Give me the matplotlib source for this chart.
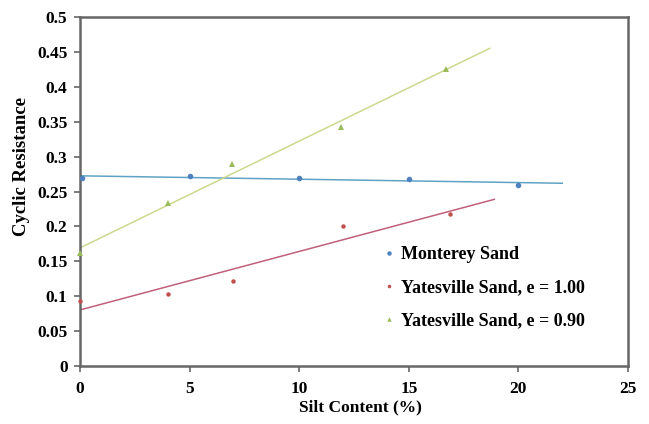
import numpy as np
import matplotlib
matplotlib.use("Agg")
import matplotlib.pyplot as plt

# Data
monterey_x = [0.1, 5, 10, 15, 20]
monterey_y = [0.269, 0.272, 0.270, 0.268, 0.259]

yates100_x = [0, 4, 7, 12, 16.9]
yates100_y = [0.093, 0.103, 0.122, 0.200, 0.218]

yates090_x = [0, 4, 6.95, 11.9, 16.7]
yates090_y = [0.162, 0.233, 0.289, 0.342, 0.425]

series_labels = ["Monterey Sand", "Yatesville Sand, e = 1.00", "Yatesville Sand, e = 0.90"]
x_ticks = [0, 5, 10, 15, 20, 25]
y_ticks = [0, 0.05, 0.1, 0.15, 0.2, 0.25, 0.3, 0.35, 0.4, 0.45, 0.5]
y_tick_labels = ["0", "0.05", "0.1", "0.15", "0.2", "0.25", "0.3", "0.35", "0.4", "0.45", "0.5"]
forecast_forward = 2.0

plt.rcParams['font.family'] = ['Liberation Serif', 'DejaVu Serif']
plt.rcParams['font.weight'] = 'bold'

fig = plt.figure(figsize=(6.49, 4.24), dpi=100)
ax = fig.add_axes([80/649, 1-366/424, (628-80)/649, (366-17)/424])

series = [
    (monterey_x, monterey_y, '#4f81bd', 'o', 4.0, '#5fa3c4'),
    (yates100_x, yates100_y, '#c0504d', 'o', 3.2, '#c0607a'),
    (yates090_x, yates090_y, '#9bbb59', '^', 4.0, '#cbd98f'),
]

handles = []
for (xs, ys, mc, mk, ms, lc), lab in zip(series, series_labels):
    slope, inter = np.polyfit(xs, ys, 1)
    xl = np.array([0.0, max(xs) + forecast_forward])
    ax.plot(xl, slope * xl + inter, color=lc, lw=1.1, zorder=2)
    h, = ax.plot(xs, ys, linestyle='none', marker=mk, color=mc, markersize=ms,
                 markeredgewidth=0, zorder=5, clip_on=False, label=lab)
    handles.append(h)

ax.set_xlim(0, 25)
ax.set_ylim(0, 0.5)
ax.set_xticks(x_ticks)
ax.set_xticklabels([str(t) for t in x_ticks])
ax.set_yticks(y_ticks)
ax.set_yticklabels(y_tick_labels)
ax.tick_params(axis='both', labelsize=12.5, length=4, width=1.2, color='#666666', direction='out')
ax.tick_params(axis='x', pad=7)
ax.tick_params(axis='y', pad=5)
for lab in ax.get_xticklabels() + ax.get_yticklabels():
    lab.set_fontweight('bold')

for s in ax.spines.values():
    s.set_color('#666666')
    s.set_linewidth(1.8)

ax.set_xlabel("Silt Content (%)", fontsize=12.5, fontweight='bold')
ax.xaxis.set_label_coords((360-80)/548, (366-399)/349)
ax.set_ylabel("Cyclic Resistance", fontsize=13.5, fontweight='bold')
ax.yaxis.set_label_coords((30-80)/548, (366-167)/349)

leg = ax.legend(handles=handles, loc='upper left', bbox_to_anchor=((367-80)/548, (366-230)/349),
                frameon=False, prop={'family': ['Liberation Serif'], 'weight': 'bold', 'size': 13},
                handlelength=0.6, handletextpad=0.4, labelspacing=0.88, markerscale=0.8)

fig.savefig("out.png", dpi=100, facecolor='white')
